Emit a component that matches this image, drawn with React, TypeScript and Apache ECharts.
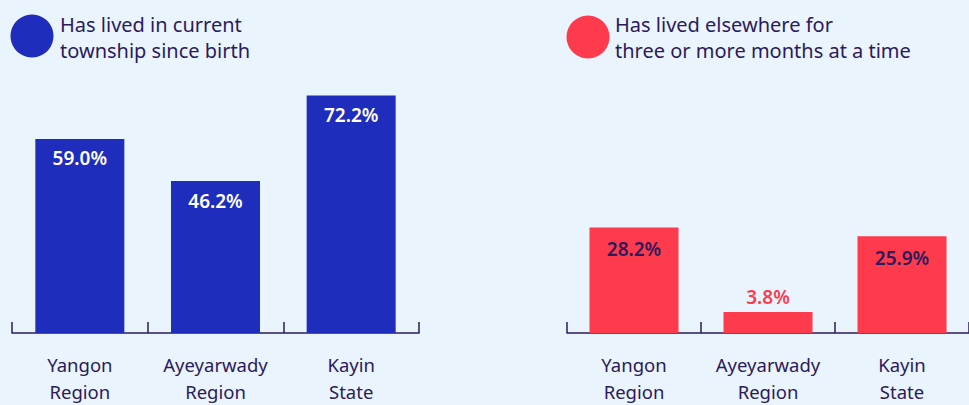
import React, { useEffect, useRef } from "react";
import * as echarts from "echarts";

const categories = ["Yangon\nRegion", "Ayeyarwady\nRegion", "Kayin\nState"];
const sinceBirth = [59.0, 46.2, 72.2];
const elsewhere = [28.2, 3.8, 25.9];
const legendLeft = ["Has lived in current", "township since birth"];
const legendRight = ["Has lived elsewhere for", "three or more months at a time"];

const BLUE = "#1f2dbd";
const RED = "#fe3b4c";
const INK = "#2b1a5c";
const BG = "#eaf4fd";
const FONT = "Noto Sans";

export default function App() {
  const ref = useRef<HTMLDivElement>(null);
  useEffect(() => {
    const chart = echarts.init(ref.current!, undefined, { renderer: "svg" });
    const xAxisCommon = (gridIndex: number) => ({
      type: "category" as const,
      gridIndex,
      data: categories,
      axisLine: { show: true, lineStyle: { color: INK, width: 1.5 } },
      axisTick: { show: true, inside: true, length: 11, lineStyle: { color: INK, width: 1.5 } },
      axisLabel: {
        interval: 0,
        color: INK,
        fontFamily: FONT,
        fontSize: 18.5,
        lineHeight: 27,
        margin: 18,
      },
    });
    const yAxisCommon = (gridIndex: number, max: number) => ({
      type: "value" as const,
      gridIndex,
      min: 0,
      max,
      show: false,
      splitLine: { show: false },
    });
    const valueLabel = {
      show: true,
      position: "insideTop" as const,
      fontFamily: FONT,
      fontWeight: 600,
      fontSize: 19,
      formatter: (p: any) => p.value.toFixed(1) + "%",
    };
    chart.setOption({
      animation: false,
      backgroundColor: BG,
      grid: [
        { left: 12, width: 407, top: 4, height: 329 },
        { left: 567, width: 407, top: 34, height: 299 },
      ],
      xAxis: [xAxisCommon(0), xAxisCommon(1)],
      yAxis: [yAxisCommon(0, 100), yAxisCommon(1, 80)],
      series: [
        {
          type: "bar",
          xAxisIndex: 0,
          yAxisIndex: 0,
          data: sinceBirth,
          barWidth: 89,
          itemStyle: { color: BLUE },
          label: { ...valueLabel, distance: 10, color: "#ffffff" },
        },
        {
          type: "bar",
          xAxisIndex: 1,
          yAxisIndex: 1,
          barWidth: 89,
          barMinHeight: 21,
          itemStyle: { color: RED },
          data: elsewhere.map((v) =>
            v < 10
              ? {
                  value: v,
                  label: { position: "top", color: RED, distance: 6 },
                }
              : { value: v }
          ),
          label: { ...valueLabel, distance: 12, color: INK },
        },
      ],
      graphic: [
        { type: "circle", shape: { cx: 32, cy: 36, r: 21.5 }, style: { fill: BLUE } },
        {
          type: "text",
          left: 60,
          top: 11,
          style: {
            text: legendLeft.join("\n"),
            fill: INK,
            font: `20px "${FONT}"`,
            lineHeight: 26,
          },
        },
        { type: "circle", shape: { cx: 588, cy: 37, r: 21.5 }, style: { fill: RED } },
        {
          type: "text",
          left: 615,
          top: 11,
          style: {
            text: legendRight.join("\n"),
            fill: INK,
            font: `20px "${FONT}"`,
            lineHeight: 26,
          },
        },
      ],
    });
    return () => chart.dispose();
  }, []);
  return (
    <div
      ref={ref}
      style={{ position: "fixed", left: 0, top: 0, width: 969, height: 405, background: BG }}
    />
  );
}
